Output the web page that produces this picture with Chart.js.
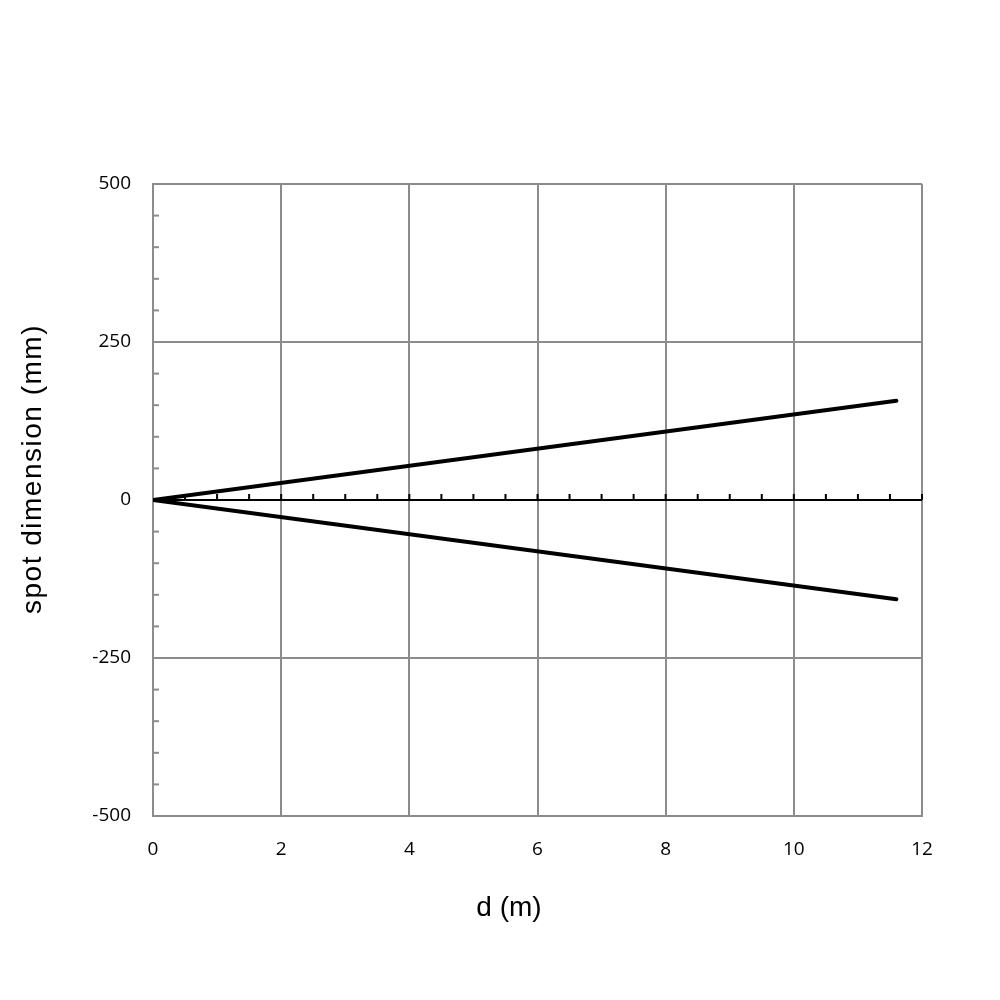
<!DOCTYPE html>
<html>
<head>
<meta charset="utf-8">
<script src="https://cdn.jsdelivr.net/npm/chart.js@4"></script>
<style>
  body { margin: 0; background: #fff; }
</style>
</head>
<body>
<canvas id="chart" width="1000" height="1000"></canvas>
<script>
// distance (m) and spot half-size (mm)
const distance = [0, 11.6]
const upperEdge = [0, 157]
const lowerEdge = [0, -157]

const xTitle = 'd (m)'
const yTitle = 'spot dimension (mm)'

const gridGray = '#8c8c8c'

// small ticks: along the zero line and on the left axis
const minorTicks = {
  id: 'minorTicks',
  afterDatasetsDraw(chart) {
    const { ctx, scales: { x, y } } = chart
    ctx.save()
    ctx.lineWidth = 2
    // y axis, every 50 mm
    ctx.strokeStyle = gridGray
    for (let v = -500; v <= 500; v += 50) {
      if (v % 250 === 0) continue
      const py = y.getPixelForValue(v)
      ctx.beginPath()
      ctx.moveTo(x.left, py)
      ctx.lineTo(x.left + 6, py)
      ctx.stroke()
    }
    // zero line, every 0.5 m
    ctx.strokeStyle = '#000'
    const y0 = y.getPixelForValue(0)
    for (let v = 0.5; v <= 12; v += 0.5) {
      const px = x.getPixelForValue(v)
      ctx.beginPath()
      ctx.moveTo(px, y0)
      ctx.lineTo(px, y0 - 6)
      ctx.stroke()
    }
    ctx.restore()
  }
}

// axis titles placed like the original
const axisTitles = {
  id: 'axisTitles',
  afterDraw(chart) {
    const { ctx } = chart
    ctx.save()
    ctx.fillStyle = '#000'
    ctx.font = '28px "Liberation Sans", Arial, sans-serif'
    ctx.textAlign = 'center'
    ctx.textBaseline = 'middle'
    ctx.fillText(xTitle, 509, 908)
    ctx.translate(33, 469)
    ctx.rotate(-Math.PI / 2)
    ctx.letterSpacing = '1.5px'
    ctx.fillText(yTitle, 0, 0)
    ctx.restore()
  }
}

const toPoints = (xs, ys) => xs.map((v, i) => ({ x: v, y: ys[i] }))

new Chart(document.getElementById('chart'), {
  type: 'scatter',
  data: {
    datasets: [
      { data: toPoints(distance, upperEdge) },
      { data: toPoints(distance, lowerEdge) }
    ].map(ds => ({
      ...ds,
      showLine: true,
      borderColor: '#000',
      borderWidth: 4,
      borderCapStyle: 'round',
      pointRadius: 0
    }))
  },
  options: {
    responsive: false,
    devicePixelRatio: 1,
    animation: false,
    layout: { padding: { left: 0, top: 184, right: 78, bottom: 0 } },
    plugins: { legend: { display: false }, tooltip: { enabled: false } },
    scales: {
      x: {
        type: 'linear',
        min: 0,
        max: 12,
        afterFit: s => { s.height = 184 },
        ticks: {
          stepSize: 2,
          padding: 22,
          color: '#000',
          font: { family: '"Open Sans", sans-serif', size: 19 }
        },
        grid: { color: gridGray, lineWidth: 2, drawTicks: false },
        border: { color: gridGray, width: 2 }
      },
      y: {
        type: 'linear',
        min: -500,
        max: 500,
        afterFit: s => { s.width = 153 },
        ticks: {
          stepSize: 250,
          padding: 22,
          color: '#000',
          font: { family: '"Open Sans", sans-serif', size: 19 }
        },
        grid: {
          color: c => c.tick && c.tick.value === 0 ? '#000' : gridGray,
          lineWidth: 2,
          drawTicks: false
        },
        border: { color: gridGray, width: 2 }
      }
    }
  },
  plugins: [minorTicks, axisTitles]
})
</script>
</body>
</html>
